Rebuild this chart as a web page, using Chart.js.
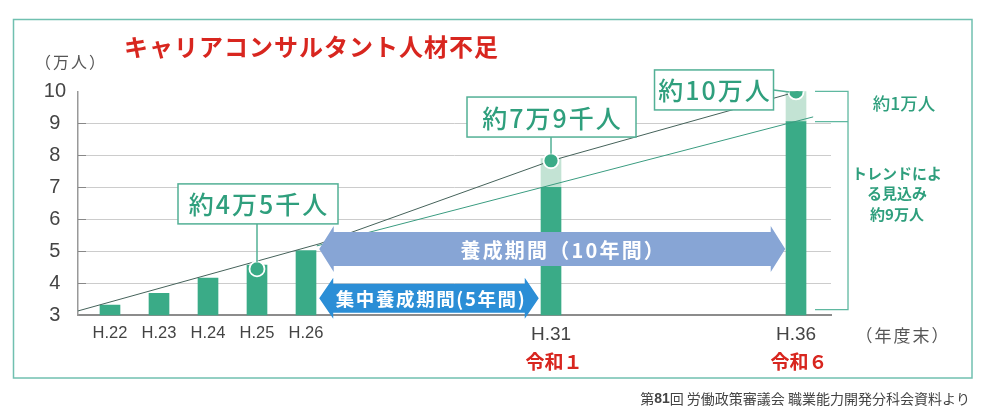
<!DOCTYPE html>
<html><head><meta charset="utf-8">
<script src="https://cdn.jsdelivr.net/npm/chart.js@4/dist/chart.umd.min.js"></script>
<style>html,body{margin:0;padding:0;background:#fff;}canvas{display:block;}</style>
</head><body>
<canvas id="c" width="986" height="416"></canvas>
<script>
// ---- data ----
const years = [22, 23, 24, 25, 26, 31, 36];
const yearLabels = ['H.22', 'H.23', 'H.24', 'H.25', 'H.26', 'H.31', 'H.36'];
const reiwaYears = [31, 36];
const reiwaLabels = ['令和１', '令和６'];
const actualValues = [3.32, 3.69, 4.16, 4.57, 5.02, 7.0, 9.05];
const extraYears = [31, 36];
const extraBase = [7.0, 9.05];
const extraTop = [7.9, 10.0];
const upperTrendX = [21.333, 26.286, 31, 36, 36.3];
const upperTrendY = [3.13, 5.24, 7.83, 9.98, 10.16];
const lowerTrendX = [26.22, 31, 36.35];
const lowerTrendY = [5.17, 7.07, 9.2];
const markerYears = [25, 31, 36];
const markerValues = [4.45, 7.83, 9.98];
const calloutLabels = ['約4万5千人', '約7万9千人', '約10万人'];
const periodStart = [26.27, 26.27];
const periodEnd = [35.78, 30.75];
const periodLevel = [5.07, 3.53];
const periodLabels = ['養成期間（10年間）', '集中養成期間(5年間)'];
const yTicks = [3, 4, 5, 6, 7, 8, 9, 10];
const gapTop = 10.0, gapMid = 9.05, gapBottom = 3.18;
const gapLabel = '約1万人';
const trendLabelLines = ['トレンドによ', 'る見込み', '約9万人'];

// ---- styles ----
const CJK = '"Noto Sans CJK JP", "Noto Sans", sans-serif';
const LAT = '"Liberation Sans", "Noto Sans CJK JP", sans-serif';
const GREEN = '#3aab87';
const LIGHT = '#c3e3d4';
const TEAL = '#2f9f7d';
const BOXLINE = '#52b095';
const RED = '#d8261f';

function arrow(ctx, x1, x2, yc, bodyH, headH, headL, color) {
  ctx.beginPath();
  ctx.moveTo(x1, yc);
  ctx.lineTo(x1 + headL, yc - headH);
  ctx.lineTo(x1 + headL, yc - bodyH);
  ctx.lineTo(x2 - headL, yc - bodyH);
  ctx.lineTo(x2 - headL, yc - headH);
  ctx.lineTo(x2, yc);
  ctx.lineTo(x2 - headL, yc + headH);
  ctx.lineTo(x2 - headL, yc + bodyH);
  ctx.lineTo(x1 + headL, yc + bodyH);
  ctx.lineTo(x1 + headL, yc + headH);
  ctx.closePath();
  ctx.fillStyle = color;
  ctx.fill();
}

const arrowStyle = [
  {bodyH: 17, headH: 23, headL: 14.5, color: '#87a5d5', font: 'bold 20px ' + CJK, spacing: '2.2px', dx: 11},
  {bodyH: 14.5, headH: 20.5, headL: 14, color: '#2b8ed6', font: 'bold 18.5px ' + CJK, spacing: '1.6px', dx: 2}
];
const calloutLayout = [
  {dx: 1, dy: -65, w: 160, h: 40, conn: 'v'},
  {dx: 0.5, dy: -43.7, w: 169, h: 40, conn: 'v'},
  {dx: -82, dy: -2, w: 119, h: 40, conn: 'h'}
];

const annotate = {
  id: 'annotate',
  afterDatasetsDraw(chart) {
    const ctx = chart.ctx, xs = chart.scales.x, ys = chart.scales.y;
    ctx.save();
    // y tick marks inside axis
    ctx.strokeStyle = '#888'; ctx.lineWidth = 1;
    for (let v = 4; v <= 9; v++) {
      const py = Math.round(ys.getPixelForValue(v)) + 0.5;
      ctx.beginPath(); ctx.moveTo(xs.left, py); ctx.lineTo(xs.left + 8, py); ctx.stroke();
    }
    // period arrows
    periodLabels.forEach((lab, i) => {
      const st = arrowStyle[i];
      const x1 = xs.getPixelForValue(periodStart[i]);
      const x2 = xs.getPixelForValue(periodEnd[i]);
      const yc = ys.getPixelForValue(periodLevel[i]);
      arrow(ctx, x1, x2, yc, st.bodyH, st.headH, st.headL, st.color);
      ctx.fillStyle = '#fff';
      ctx.font = st.font;
      ctx.letterSpacing = st.spacing;
      ctx.textAlign = 'center'; ctx.textBaseline = 'middle';
      ctx.fillText(lab, (x1 + x2) / 2 + st.dx, yc + 1);
    });
    // callouts
    calloutLabels.forEach((lab, i) => {
      const L = calloutLayout[i];
      const mx = xs.getPixelForValue(markerYears[i]);
      const my = ys.getPixelForValue(markerValues[i]);
      const cx = mx + L.dx, cy = my + L.dy;
      ctx.strokeStyle = BOXLINE; ctx.lineWidth = 1.5;
      ctx.beginPath();
      if (L.conn === 'v') { ctx.moveTo(mx, cy + L.h / 2); ctx.lineTo(mx, my - 7); }
      else { ctx.moveTo(cx + L.w / 2, cy); ctx.lineTo(mx - 7, my); }
      ctx.stroke();
      ctx.fillStyle = '#fff';
      ctx.fillRect(cx - L.w / 2, cy - L.h / 2, L.w, L.h);
      ctx.strokeRect(cx - L.w / 2, cy - L.h / 2, L.w, L.h);
      ctx.fillStyle = TEAL;
      ctx.font = '500 25px ' + CJK;
      ctx.letterSpacing = '2px';
      ctx.textAlign = 'center'; ctx.textBaseline = 'middle';
      ctx.fillText(lab, cx + 1, cy + 1);
    });
    ctx.restore();
  },
  afterDraw(chart) {
    const ctx = chart.ctx, xs = chart.scales.x, ys = chart.scales.y;
    ctx.save();
    // frame
    ctx.strokeStyle = '#70c0b0'; ctx.lineWidth = 1.5;
    ctx.strokeRect(13.5, 19.5, 958.5, 358.5);
    ctx.textBaseline = 'middle';
    // title
    ctx.fillStyle = RED; ctx.font = 'bold 24px ' + CJK; ctx.textAlign = 'left';
    ctx.letterSpacing = '1px';
    ctx.fillText('キャリアコンサルタント人材不足', 124, 47);
    // unit
    ctx.fillStyle = '#555'; ctx.font = '16px ' + CJK; ctx.textAlign = 'center';
    ctx.letterSpacing = '2px';
    ctx.fillText('（万人）', 71, 62);
    ctx.font = '17px ' + CJK;
    ctx.fillText('（年度末）', 903, 336);
    ctx.letterSpacing = '0px';
    // reiwa labels
    ctx.fillStyle = RED; ctx.font = 'bold 19px ' + CJK;
    reiwaYears.forEach((y, i) => ctx.fillText(reiwaLabels[i], xs.getPixelForValue(y) + 3, 362));
    // bracket
    const bx = xs.getPixelForValue(36);
    const yT = ys.getPixelForValue(gapTop), yM = ys.getPixelForValue(gapMid), yB = ys.getPixelForValue(gapBottom);
    ctx.strokeStyle = '#5fb8a0'; ctx.lineWidth = 1.3;
    ctx.beginPath();
    ctx.moveTo(bx + 19, yT); ctx.lineTo(bx + 52, yT); ctx.lineTo(bx + 52, yB); ctx.lineTo(bx + 19, yB);
    ctx.moveTo(bx + 19, yM); ctx.lineTo(bx + 52, yM);
    ctx.stroke();
    ctx.fillStyle = TEAL; ctx.font = '500 17.5px ' + CJK;
    ctx.fillText(gapLabel, 904, 103);
    ctx.font = 'bold 15px ' + CJK;
    trendLabelLines.forEach((t, i) => ctx.fillText(t, 897, 173 + i * 20.5));
    // source
    ctx.fillStyle = '#444'; ctx.textAlign = 'left';
    const p1 = '第', p2 = '81', p3 = '回 労働政策審議会 職業能力開発分科会資料より';
    ctx.font = '14px ' + CJK; const w1 = ctx.measureText(p1).width, w3 = ctx.measureText(p3).width;
    ctx.font = 'bold 14px ' + LAT; const w2 = ctx.measureText(p2).width;
    let sx = 970 - (w1 + w2 + w3);
    ctx.font = '14px ' + CJK; ctx.fillText(p1, sx, 399); sx += w1;
    ctx.font = 'bold 14px ' + LAT; ctx.fillText(p2, sx, 399); sx += w2;
    ctx.font = '14px ' + CJK; ctx.fillText(p3, sx, 399);
    ctx.restore();
  }
};

new Chart(document.getElementById('c'), {
  data: {
    datasets: [
      {type: 'line', data: markerYears.map((x, i) => ({x, y: markerValues[i]})), showLine: false,
       pointRadius: 7.5, pointBackgroundColor: GREEN, pointBorderColor: '#ffffff', pointBorderWidth: 1.8, order: 0},
      {type: 'line', data: upperTrendX.map((x, i) => ({x, y: upperTrendY[i]})), borderColor: '#45625a',
       borderWidth: 1, pointRadius: 0, tension: 0, order: 1},
      {type: 'line', data: lowerTrendX.map((x, i) => ({x, y: lowerTrendY[i]})), borderColor: '#3a9c80',
       borderWidth: 1, pointRadius: 0, tension: 0, order: 1},
      {type: 'bar', data: years.map((x, i) => ({x, y: actualValues[i]})), backgroundColor: GREEN,
       barThickness: 20, grouped: false, order: 2},
      {type: 'bar', data: extraYears.map((x, i) => ({x, y: [extraBase[i], extraTop[i]]})), backgroundColor: LIGHT,
       barThickness: 20, grouped: false, order: 2}
    ]
  },
  options: {
    responsive: false, animation: false, events: [],
    layout: {padding: {left: 0, top: 91.3, right: 155, bottom: 0}},
    plugins: {legend: {display: false}, tooltip: {enabled: false}},
    scales: {
      x: {
        type: 'linear', min: 21.347, max: 36.714, offset: false,
        afterBuildTicks: s => { s.ticks = years.map(v => ({value: v})); },
        afterFit: s => { s.height = 416 - 315.3; },
        grid: {display: false, drawTicks: false, offset: false},
        border: {display: true, color: '#8c8c8c', width: 2},
        ticks: {
          autoSkip: false, maxRotation: 0, padding: 8, color: '#444',
          callback: v => { const i = years.indexOf(v); return i >= 0 ? yearLabels[i] : ''; },
          font: c => ({family: LAT, size: (c.tick && reiwaYears.includes(c.tick.value)) ? 19 : 16.5})
        }
      },
      y: {
        min: 3, max: 10,
        afterBuildTicks: s => { s.ticks = yTicks.map(v => ({value: v})); },
        afterFit: s => { s.width = 78; },
        grid: {color: c => (c.tick && (c.tick.value === 10 || c.tick.value === 3)) ? 'rgba(0,0,0,0)' : '#cccccc',
               drawTicks: false, lineWidth: 1},
        border: {color: '#999', width: 1.5},
        ticks: {crossAlign: 'center', padding: 12, color: '#444', font: {family: LAT, size: 20}}
      }
    }
  },
  plugins: [annotate]
});
</script>
</body></html>
